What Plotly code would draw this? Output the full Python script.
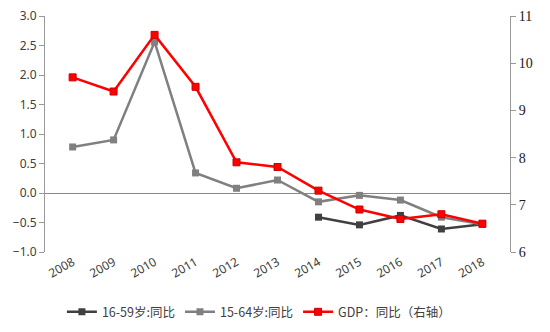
import plotly.graph_objects as go

years = ["2008", "2009", "2010", "2011", "2012", "2013", "2014", "2015", "2016", "2017", "2018"]
age_16_59 = [None, None, None, None, None, None, -0.41, -0.54, -0.38, -0.61, -0.53]
age_15_64 = [0.78, 0.90, 2.56, 0.34, 0.08, 0.22, -0.15, -0.04, -0.12, -0.41, -0.53]
gdp = [9.7, 9.4, 10.6, 9.5, 7.9, 7.8, 7.3, 6.9, 6.7, 6.8, 6.6]

names = ["16-59岁:同比", "15-64岁:同比", "GDP：同比（右轴）"]

fig = go.Figure()
fig.add_trace(go.Scatter(x=years, y=age_16_59, name=names[0], mode="lines+markers",
                         line=dict(color="#404040", width=2.5),
                         marker=dict(symbol="square", size=7, color="#404040")))
fig.add_trace(go.Scatter(x=years, y=age_15_64, name=names[1], mode="lines+markers",
                         line=dict(color="#808080", width=2.5),
                         marker=dict(symbol="square", size=7, color="#808080")))
fig.add_trace(go.Scatter(x=years, y=gdp, name=names[2], mode="lines+markers", yaxis="y2",
                         line=dict(color="#ff0000", width=2.5),
                         marker=dict(symbol="square", size=7, color="#ff0000",
                                     line=dict(color="#cc0000", width=1))))

fig.update_layout(
    width=550, height=332,
    margin=dict(l=45, r=40, t=16, b=80, autoexpand=False),
    plot_bgcolor="white", paper_bgcolor="white",
    font=dict(family="Noto Sans CJK SC, Noto Sans, sans-serif", size=12, color="#404040"),
    showlegend=True,
    legend=dict(orientation="h", x=0.46, xanchor="center", y=-0.255, yanchor="middle",
                font=dict(size=12.5, color="#404040"), itemwidth=30, tracegroupgap=0),
    xaxis=dict(type="category", showline=False, ticks="", tickangle=-30,
               tickfont=dict(family="Noto Sans, sans-serif", size=12, color="#404040"),
               showgrid=False),
    yaxis=dict(range=[-1, 3], dtick=0.5, tickformat=".1f", showgrid=False,
               showline=True, linecolor="#999999", linewidth=1,
               ticks="outside", ticklen=5, tickcolor="#999999",
               zeroline=True, zerolinecolor="#888888", zerolinewidth=1,
               tickfont=dict(family="Noto Sans, sans-serif", size=12, color="#404040")),
    yaxis2=dict(range=[6, 11], dtick=1, overlaying="y", side="right", anchor="x",
                showgrid=False, showline=True, linecolor="#999999", linewidth=1,
                ticks="outside", ticklen=5, tickcolor="#999999", zeroline=False,
                tickfont=dict(family="Liberation Serif, serif", size=14, color="#202020")),
)

fig.write_html("out.html")
